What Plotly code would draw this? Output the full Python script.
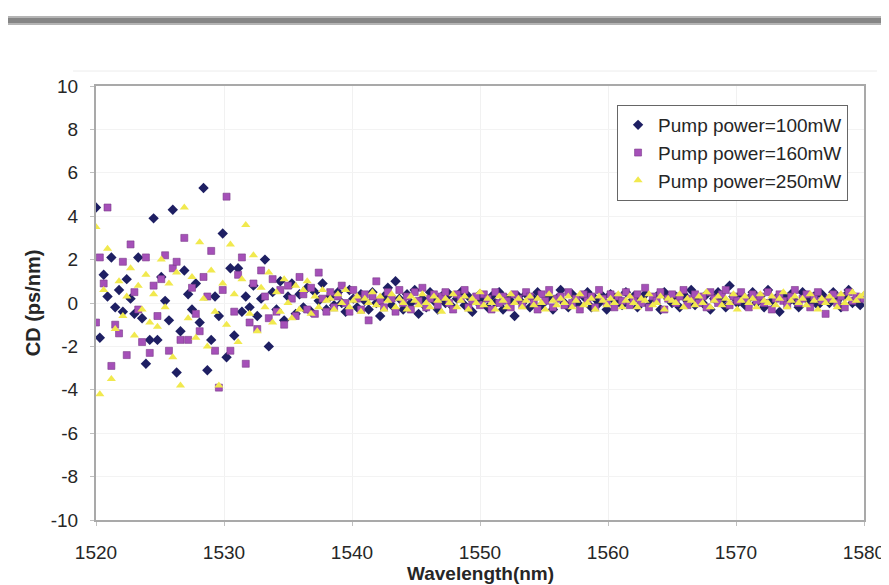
import plotly.graph_objects as go

wavelength = [
    1520.0, 1520.3, 1520.6, 1520.9, 1521.2, 1521.5, 1521.8, 1522.1, 1522.4, 1522.7,
    1523.0, 1523.3, 1523.6, 1523.9, 1524.2, 1524.5, 1524.8, 1525.1, 1525.4, 1525.7,
    1526.0, 1526.3, 1526.6, 1526.9, 1527.2, 1527.5, 1527.8, 1528.1, 1528.4, 1528.7,
    1529.0, 1529.3, 1529.6, 1529.9, 1530.2, 1530.5, 1530.8, 1531.1, 1531.4, 1531.7,
    1532.0, 1532.3, 1532.6, 1532.9, 1533.2, 1533.5, 1533.8, 1534.1, 1534.4, 1534.7,
    1535.0, 1535.3, 1535.6, 1535.9, 1536.2, 1536.5, 1536.8, 1537.1, 1537.4, 1537.7,
    1538.0, 1538.3, 1538.6, 1538.9, 1539.2, 1539.5, 1539.8, 1540.1, 1540.4, 1540.7,
    1541.0, 1541.3, 1541.6, 1541.9, 1542.2, 1542.5, 1542.8, 1543.1, 1543.4, 1543.7,
    1544.0, 1544.3, 1544.6, 1544.9, 1545.2, 1545.5, 1545.8, 1546.1, 1546.4, 1546.7,
    1547.0, 1547.3, 1547.6, 1547.9, 1548.2, 1548.5, 1548.8, 1549.1, 1549.4, 1549.7,
    1550.0, 1550.3, 1550.6, 1550.9, 1551.2, 1551.5, 1551.8, 1552.1, 1552.4, 1552.7,
    1553.0, 1553.3, 1553.6, 1553.9, 1554.2, 1554.5, 1554.8, 1555.1, 1555.4, 1555.7,
    1556.0, 1556.3, 1556.6, 1556.9, 1557.2, 1557.5, 1557.8, 1558.1, 1558.4, 1558.7,
    1559.0, 1559.3, 1559.6, 1559.9, 1560.2, 1560.5, 1560.8, 1561.1, 1561.4, 1561.7,
    1562.0, 1562.3, 1562.6, 1562.9, 1563.2, 1563.5, 1563.8, 1564.1, 1564.4, 1564.7,
    1565.0, 1565.3, 1565.6, 1565.9, 1566.2, 1566.5, 1566.8, 1567.1, 1567.4, 1567.7,
    1568.0, 1568.3, 1568.6, 1568.9, 1569.2, 1569.5, 1569.8, 1570.1, 1570.4, 1570.7,
    1571.0, 1571.3, 1571.6, 1571.9, 1572.2, 1572.5, 1572.8, 1573.1, 1573.4, 1573.7,
    1574.0, 1574.3, 1574.6, 1574.9, 1575.2, 1575.5, 1575.8, 1576.1, 1576.4, 1576.7,
    1577.0, 1577.3, 1577.6, 1577.9, 1578.2, 1578.5, 1578.8, 1579.1, 1579.4, 1579.7,
    1580.0,
]

cd_100mW = [
    4.4, -1.6, 1.3, 0.3, 2.1, -0.2, 0.6, -0.4, 1.1, 0.2,
    -0.5, 2.1, -0.7, -2.8, -1.7, 3.9, -1.7, 1.2, 0.1, -0.8,
    4.3, -3.2, -1.3, 1.5, 0.4, -0.3, 0.9, -0.9, 5.3, -3.1,
    -1.7, 0.3, -0.6, 3.2, -2.5, 1.6, -1.5, 1.6, -0.4, 0.3,
    -0.2, 0.8, -0.6, 0.2, 2.0, -2.0, 0.5, -0.3, 1.0, -0.8,
    0.3, 0.9, -0.5, 0.4, -0.2, 0.7, -0.4, 0.5, 0.1, 0.9,
    -0.3, 0.3, -0.1, 0.5, 0.0, -0.4, 0.6, 0.2, -0.2, 0.4,
    0.1, -0.3, 0.5, 0.0, -0.6, 0.3, 0.7, -0.1, 1.0, 0.2,
    -0.3, 0.4, 0.0, 0.6, -0.5, 0.2, -0.2, 0.5, 0.1, -0.3,
    0.3, 0.0, 0.4, -0.2, 0.2, 0.5, -0.1, 0.3, -0.4, 0.1,
    0.4, 0.2, -0.2, 0.3, 0.0, 0.5, -0.3, 0.2, 0.1, -0.6,
    0.3, 0.0, 0.4, -0.2, 0.2, 0.5, -0.1, 0.1, 0.3, -0.3,
    0.2, 0.6, 0.0, -0.2, 0.4, 0.1, -0.1, 0.3, 0.5, -0.2,
    0.2, 0.0, 0.3, -0.3, 0.4, 0.1, 0.2, -0.1, 0.5, 0.0,
    0.3, -0.2, 0.2, 0.4, -0.1, 0.1, 0.3, -0.3, 0.5, 0.2,
    0.0, 0.3, -0.2, 0.4, 0.1, 0.6, -0.1, 0.2, 0.0, 0.4,
    -0.3, 0.2, 0.5, 0.1, -0.2, 0.8, 0.3, 0.0, 0.4, -0.1,
    0.2, 0.5, 0.0, 0.3, -0.2, 0.6, 0.1, 0.2, -0.4, 0.3,
    0.0, 0.4, 0.1, -0.2, 0.5, 0.2, 0.0, 0.3, -0.1, 0.4,
    0.2, 0.0, 0.5, 0.1, -0.2, 0.3, 0.6, 0.0, 0.2, -0.1,
    0.3,
]

cd_160mW = [
    -0.9, 2.1, 0.9, 4.4, -2.9, -1.0, -1.4, 1.9, -2.4, 2.7,
    0.5, -0.3, -1.8, 2.1, -2.3, 0.8, -0.6, 1.1, 2.2, -2.2,
    1.6, 1.9, -1.7, 3.0, -1.7, 0.7, -0.5, -1.3, 1.2, 0.3,
    2.4, -2.2, -3.9, 0.6, 4.9, -2.2, -0.4, 1.3, 2.1, -2.8,
    -0.9, 0.9, -1.2, 1.5, 0.3, -0.7, 1.1, -0.4, 0.6, -1.0,
    0.8, 0.2, -0.6, 1.2, 0.4, -0.3, 0.7, -0.5, 1.4, 0.2,
    -0.4, 0.5, -0.2, 0.3, 0.8, 0.0, -0.4, 0.6, 0.2, -0.3,
    0.4, -0.8, 0.3, 1.0, 0.1, -0.2, 0.5, 0.2, -0.4, 0.6,
    0.0, 0.3, -0.3, 0.5, 0.1, 0.7, -0.2, 0.2, 0.4, -0.1,
    0.3, 0.5, 0.0, -0.3, 0.4, 0.2, 0.6, -0.2, 0.1, 0.3,
    -0.1, 0.4, 0.2, -0.3, 0.5, 0.0, 0.3, 0.1, -0.2, 0.4,
    0.2, -0.1, 0.5, 0.3, 0.0, -0.3, 0.4, 0.1, 0.6, -0.2,
    0.2, 0.3, -0.1, 0.5, 0.0, 0.2, -0.3, 0.4, 0.1, 0.3,
    -0.2, 0.6, 0.2, 0.0, 0.4, -0.2, 0.3, 0.1, 0.5, -0.1,
    0.2, 0.4, 0.0, 0.7, -0.2, 0.3, 0.1, 0.5, -0.3, 0.2,
    0.4, 0.0, 0.3, 0.6, -0.1, 0.2, 0.4, 0.0, 0.3, -0.2,
    0.5, 0.2, 0.0, 0.4, 0.6, -0.1, 0.3, 0.1, 0.5, 0.2,
    -0.2, 0.4, 0.1, 0.3, 0.0, 0.5, -0.3, 0.2, 0.4, 0.1,
    -0.1, 0.3, 0.6, 0.0, 0.2, 0.4, -0.2, 0.3, 0.5, 0.1,
    -0.5, 0.2, 0.4, 0.0, 0.3, -0.2, 0.5, 0.1, 0.3, 0.2,
    0.2,
]

cd_250mW = [
    3.5, -4.2, 0.6, 2.5, -3.5, -1.2, 1.0, -0.6, 0.3, 1.6,
    -1.5, 0.8, -0.3, 1.3, -0.9, 0.4, -1.1, 2.0, -0.2, 0.9,
    -2.5, 1.4, -3.8, 4.4, -0.7, 1.2, -1.6, 2.8, 0.2, -2.0,
    1.5, -0.4, -3.8, 0.9, -1.0, 2.7, 0.4, -1.8, 1.1, 3.6,
    -0.5, 2.2, -1.3, 0.7, -0.2, 1.4, -0.9, 0.5, -0.4, 1.1,
    0.0, -0.7, 0.8, -0.3, 0.6, 1.0, -0.5, 0.3, -0.2, 0.6,
    0.1, 0.2, -0.3, 0.4, 0.0, 0.6, -0.2, 0.1, 0.3, -0.4,
    0.2, 0.0, 0.5, -0.1, 0.3, -0.3, 0.1, 0.4, -0.2, 0.2,
    0.0, -0.3, 0.3, 0.1, -0.1, 0.4, 0.0, -0.2, 0.3, 0.1,
    -0.4, 0.2, 0.0, 0.4, -0.2, 0.1, 0.3, -0.3, 0.2, 0.0,
    0.5, -0.1, 0.2, 0.0, -0.3, 0.3, 0.1, -0.2, 0.4, 0.0,
    0.2, -0.2, 0.1, 0.3, -0.1, 0.2, 0.0, -0.3, 0.4, 0.1,
    -0.1, 0.2, 0.0, 0.3, -0.2, 0.1, 0.4, -0.1, 0.0, 0.2,
    -0.3, 0.3, 0.1, -0.1, 0.2, 0.0, 0.4, -0.2, 0.1, 0.3,
    0.0, -0.2, 0.2, 0.1, 0.4, -0.1, 0.0, 0.3, -0.3, 0.2,
    0.1, 0.0, 0.4, -0.2, 0.2, 0.1, -0.1, 0.3, 0.0, 0.5,
    -0.2, 0.1, 0.3, -0.1, 0.2, 0.0, 0.4, -0.3, 0.1, 0.3,
    0.0, 0.2, -0.2, 0.4, 0.1, 0.0, 0.3, -0.1, 0.2, 0.5,
    -0.2, 0.1, 0.3, 0.0, 0.2, -0.1, 0.4, 0.1, -0.3, 0.2,
    0.0, 0.3, 0.1, -0.2, 0.4, 0.0, 0.2, 0.5, 0.1, 0.3,
    0.4,
]

series_names = ["Pump power=100mW", "Pump power=160mW", "Pump power=250mW"]
x_ticks = [1520, 1530, 1540, 1550, 1560, 1570, 1580]
x_tick_labels = ["1520", "1530", "1540", "1550", "1560", "1570", "1580"]
y_ticks = [-10, -8, -6, -4, -2, 0, 2, 4, 6, 8, 10]
y_tick_labels = ["-10", "-8", "-6", "-4", "-2", "0", "2", "4", "6", "8", "10"]

FONT = "Liberation Sans, Arial, Helvetica, sans-serif"
TXT = "#262626"

styles = [
    dict(symbol="diamond", size=8, color="#1e1f63", line=dict(width=0)),
    dict(symbol="square", size=7, color="#a550b8", line=dict(width=0.6, color="#7a3a8a")),
    dict(symbol="triangle-up", size=8, color="#f1e94e", line=dict(width=0)),
]

fig = go.Figure()
for name, yv, st in zip(series_names, [cd_100mW, cd_160mW, cd_250mW], styles):
    fig.add_trace(go.Scatter(x=wavelength, y=yv, mode="markers", name=name, marker=st))

W, H = 889, 585
L, R, T, B = 88, 30, 78, 73
pw, ph = W - L - R, H - T - B

def px_x(p):
    return (p - L) / pw

def px_y(p):
    return (H - B - p) / ph

fig.update_layout(
    width=W, height=H,
    margin=dict(l=L, r=R, t=T, b=B, pad=0),
    paper_bgcolor="white", plot_bgcolor="white",
    font=dict(family=FONT, size=19, color=TXT),
    showlegend=True,
    legend=dict(
        x=px_x(843), xanchor="right", y=px_y(97), yanchor="top",
        bordercolor="#666666", borderwidth=1, bgcolor="white",
        font=dict(family=FONT, size=19, color=TXT),
        itemwidth=30, tracegroupgap=0,
    ),
    xaxis=dict(
        range=[1520, 1580], tickvals=x_ticks, ticktext=x_tick_labels,
        showline=True, linecolor="#a9a9a9",
        linewidth=2, mirror=True, ticks="outside", ticklen=4, tickcolor="#c0c0c0",
        showgrid=True, gridcolor="#f1f1f1", zeroline=False, ticklabelstandoff=10,
    ),
    yaxis=dict(
        range=[-10, 10], tickvals=y_ticks, ticktext=y_tick_labels,
        showline=True, linecolor="#a9a9a9",
        linewidth=2, mirror=True, ticks="outside", ticklen=4, tickcolor="#c0c0c0",
        showgrid=True, gridcolor="#f3f3f3", zeroline=False, ticklabelstandoff=8,
    ),
    annotations=[
        dict(text="<b>Wavelength(nm)</b>", xref="paper", yref="paper",
             x=0.5, y=px_y(565), xanchor="center", yanchor="middle",
             showarrow=False, font=dict(family=FONT, size=19, color=TXT)),
        dict(text="<b>CD (ps/nm)</b>", xref="paper", yref="paper",
             x=px_x(25), y=0.5, xanchor="center", yanchor="middle", textangle=-90,
             showarrow=False, font=dict(family=FONT, size=20, color=TXT)),
    ],
    shapes=[
        dict(type="rect", xref="paper", yref="paper", x0=px_x(-5), x1=px_x(W + 5),
             y0=px_y(17), y1=px_y(8), fillcolor="#b4b4b4", line=dict(width=0), layer="above"),
        dict(type="rect", xref="paper", yref="paper", x0=px_x(-5), x1=px_x(W + 5),
             y0=px_y(15), y1=px_y(10), fillcolor="#858585", line=dict(width=0), layer="above"),
        dict(type="line", xref="paper", yref="paper", x0=px_x(65), x1=px_x(872),
             y0=px_y(63), y1=px_y(63), line=dict(color="#ececec", width=1)),
    ],
)

fig.write_html("out.html")
